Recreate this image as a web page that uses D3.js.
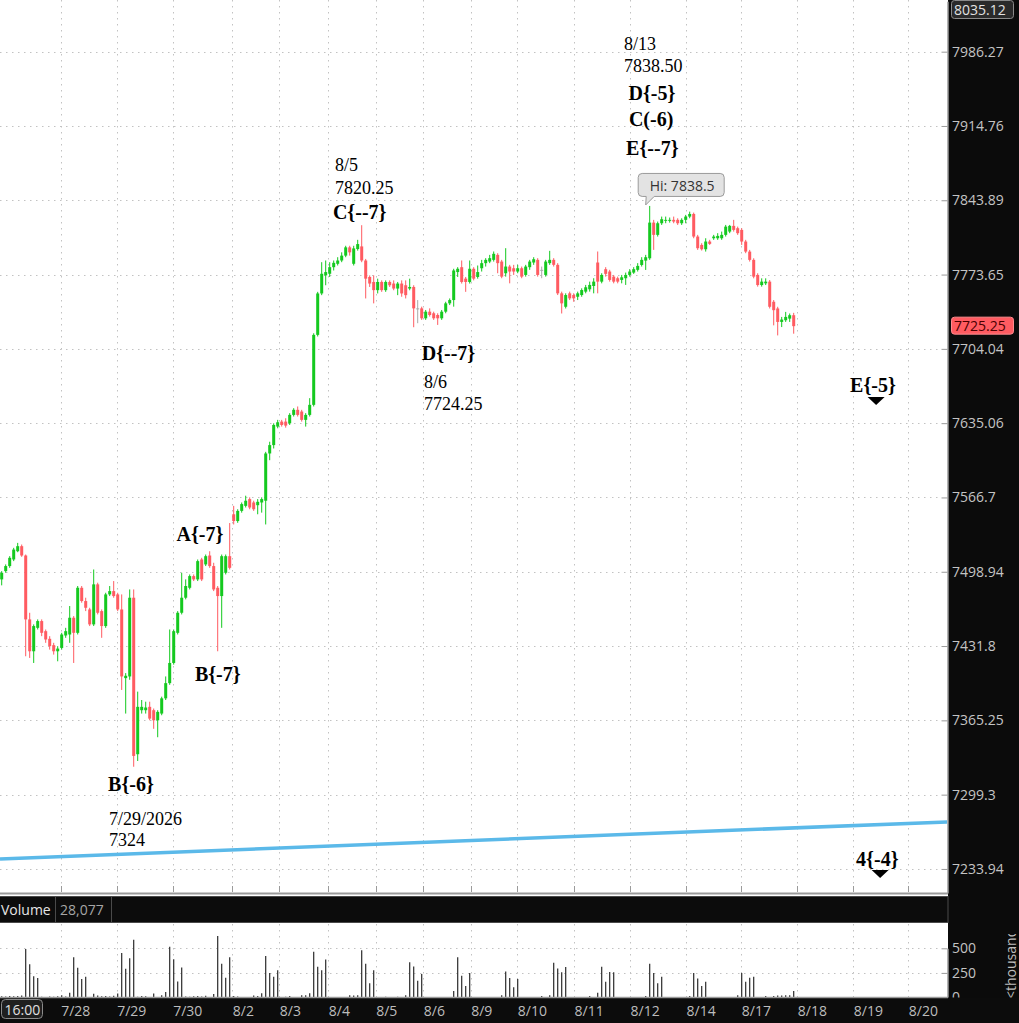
<!DOCTYPE html>
<html>
<head>
<meta charset="utf-8">
<script src="https://cdn.jsdelivr.net/npm/d3@7"></script>
<style>
  html, body { margin: 0; padding: 0; background: #fff; overflow: hidden; }
  svg { display: block; }
</style>
</head>
<body>
<svg id="chart" width="1019" height="1023"></svg>
<script>
// bars, [open, high, low, close]
const candles = [
  [7492.0,7499.5,7486.6,7498.0],[7499.5,7505.6,7498.0,7504.1],[7504.1,7513.1,7502.5,7511.6],[7510.1,7520.7,7508.6,7519.1],
  [7517.6,7525.2,7516.7,7522.2],[7522.2,7523.7,7512.5,7513.7],[7513.7,7514.6,7422.6,7455.8],[7455.8,7461.8,7421.1,7427.1],
  [7427.1,7451.3,7416.6,7449.8],[7448.2,7455.8,7446.7,7454.3],[7454.3,7455.8,7440.7,7443.7],[7445.2,7446.7,7434.7,7437.7],
  [7438.3,7440.7,7428.6,7431.7],[7432.6,7434.7,7424.1,7427.1],[7427.1,7431.7,7418.1,7429.5],[7430.1,7443.7,7428.6,7442.2],
  [7441.3,7448.2,7439.2,7445.2],[7442.2,7467.9,7434.7,7457.3],[7457.3,7458.8,7416.6,7443.7],[7443.7,7486.0,7442.2,7484.4],
  [7484.4,7486.0,7470.9,7472.4],[7472.4,7475.4,7463.3,7466.3],[7464.8,7466.3,7449.8,7451.3],[7451.3,7501.0,7449.8,7487.5],
  [7487.5,7489.0,7460.3,7461.8],[7463.3,7464.8,7439.2,7449.8],[7449.8,7479.9,7448.2,7478.4],[7478.4,7486.0,7476.9,7481.4],
  [7481.4,7490.5,7475.4,7476.9],[7478.4,7479.9,7463.3,7464.8],[7464.8,7478.4,7392.4,7404.5],[7403.0,7407.5,7371.3,7405.1],
  [7404.5,7482.9,7401.5,7475.4],[7475.4,7482.9,7324.0,7333.6],[7335.1,7390.9,7329.1,7377.3],[7374.3,7383.4,7371.3,7377.3],
  [7374.3,7381.9,7371.3,7376.7],[7377.3,7381.9,7365.3,7366.8],[7374.3,7375.8,7357.7,7365.3],[7365.3,7374.3,7350.2,7372.8],
  [7371.3,7386.4,7369.8,7384.9],[7384.9,7404.5,7383.4,7398.5],[7398.5,7446.7,7397.0,7416.6],[7416.6,7446.7,7415.1,7445.2],
  [7443.7,7463.3,7442.2,7461.8],[7461.8,7498.0,7460.3,7475.4],[7475.4,7492.0,7473.9,7486.0],[7484.4,7496.5,7482.9,7495.0],
  [7495.0,7496.5,7490.5,7492.0],[7492.0,7510.1,7490.5,7508.6],[7510.1,7511.6,7490.5,7492.0],[7505.6,7514.6,7504.1,7513.1],
  [7513.7,7517.6,7502.5,7504.1],[7504.1,7507.1,7481.4,7482.9],[7484.4,7486.0,7427.1,7476.9],[7476.9,7514.6,7448.2,7513.1],
  [7498.0,7514.6,7496.5,7513.1],[7513.1,7543.3,7501.0,7502.5],
  [7551.3,7559.0,7542.0,7545.1],[7545.1,7555.9,7543.5,7554.4],
  [7554.4,7562.1,7552.8,7560.6],[7559.0,7568.3,7557.5,7563.7],[7565.2,7566.8,7555.9,7557.5],[7562.1,7563.7,7554.4,7555.9],
  [7559.6,7565.2,7551.3,7562.7],[7562.1,7566.8,7552.8,7565.2],[7563.7,7608.6,7542.0,7607.1],[7607.1,7617.9,7600.9,7614.8],
  [7614.8,7634.9,7611.7,7633.4],[7631.9,7638.1,7630.3,7635.9],[7636.5,7638.1,7631.9,7633.4],[7636.5,7639.6,7630.9,7632.8],
  [7634.9,7644.3,7633.4,7642.7],[7642.7,7648.9,7641.2,7647.4],[7647.4,7650.5,7641.2,7642.7],[7645.8,7647.4,7636.5,7638.1],
  [7638.1,7644.3,7631.9,7642.7],[7642.7,7658.2,7641.2,7652.0],[7652.0,7718.6,7650.5,7717.1],[7717.1,7757.4,7715.6,7755.9],
  [7755.9,7785.3,7754.3,7774.4],[7772.9,7786.9,7763.6,7776.0],[7774.4,7785.3,7771.4,7780.6],[7780.6,7786.9,7777.5,7784.7],
  [7783.8,7790.0,7782.2,7786.9],[7786.9,7794.6,7785.3,7791.5],[7791.5,7800.8,7790.0,7799.3],[7799.3,7800.8,7791.5,7794.6],
  [7783.8,7800.8,7782.2,7798.3],[7797.7,7806.4,7796.2,7802.4],[7800.2,7820.25,7785.3,7786.9],[7786.9,7788.4,7751.2,7769.8],
  [7771.4,7772.9,7762.0,7765.2],[7766.7,7772.9,7746.6,7759.0],[7759.0,7769.8,7755.9,7766.7],[7766.7,7768.2,7757.4,7759.0],
  [7759.0,7768.2,7757.4,7766.7],[7766.7,7768.2,7762.0,7763.6],[7765.2,7768.2,7758.9,7760.5],[7760.5,7766.7,7754.3,7765.2],
  [7765.2,7768.2,7752.8,7755.9],[7763.6,7768.2,7751.2,7754.3],[7760.5,7769.8,7758.9,7762.0],[7762.0,7763.6,7724.25,7741.9],
  [7741.9,7749.7,7728.0,7741.9],[7741.9,7743.5,7731.1,7732.6],[7732.6,7740.4,7731.1,7738.8],[7738.8,7741.9,7734.2,7735.7],
  [7737.3,7738.8,7731.1,7732.6],[7735.7,7737.3,7726.4,7732.6],[7732.6,7740.4,7731.1,7738.8],[7738.8,7748.1,7737.3,7746.6],
  [7746.6,7751.2,7745.0,7749.7],[7749.7,7779.1,7743.5,7777.5],[7776.0,7780.6,7771.4,7779.1],[7780.6,7786.9,7765.2,7766.7],
  [7769.8,7771.4,7757.4,7766.7],[7766.7,7786.9,7765.2,7779.1],[7779.1,7780.6,7768.2,7769.8],[7771.4,7782.2,7769.8,7776.0],
  [7779.6,7787.5,7776.5,7784.4],[7784.4,7789.1,7781.2,7787.5],[7785.9,7792.2,7784.4,7789.1],[7787.5,7795.4,7785.9,7793.2],
  [7792.2,7793.8,7774.9,7784.4],[7785.9,7787.5,7770.2,7771.7],[7774.9,7798.5,7771.7,7781.2],[7781.2,7782.8,7765.4,7776.5],
  [7779.6,7782.8,7773.3,7776.5],[7776.5,7782.8,7774.9,7779.6],[7779.6,7781.2,7770.2,7771.7],[7773.3,7782.8,7771.7,7781.2],
  [7780.6,7787.5,7778.1,7785.9],[7785.0,7790.0,7782.8,7788.1],[7787.5,7789.1,7771.7,7773.3],[7778.1,7781.2,7770.2,7778.1],
  [7773.3,7787.5,7771.7,7785.9],[7784.4,7796.0,7782.8,7787.5],[7787.5,7789.1,7781.2,7782.8],[7782.8,7784.4,7754.4,7756.0],
  [7756.0,7757.6,7737.1,7746.6],[7743.4,7756.0,7741.8,7754.4],[7756.0,7757.6,7749.7,7751.3],[7754.4,7756.0,7748.1,7751.3],
  [7752.8,7757.6,7749.7,7756.0],[7754.4,7760.7,7752.8,7759.1],[7757.6,7763.9,7756.0,7761.7],[7759.8,7767.0,7757.6,7763.9],
  [7762.9,7770.2,7756.0,7767.0],[7785.0,7795.4,7756.0,7767.0],[7767.0,7774.9,7765.4,7773.3],[7778.7,7780.6,7771.7,7774.3],
  [7776.5,7778.1,7767.0,7768.6],[7771.7,7773.3,7765.4,7767.0],[7770.2,7771.7,7765.4,7767.0],[7768.6,7773.3,7765.4,7771.1],
  [7770.2,7775.5,7763.9,7773.3],[7773.3,7778.7,7771.7,7776.5],[7775.5,7780.6,7774.3,7778.7],[7778.1,7784.4,7776.5,7781.8],
  [7782.7,7790.0,7781.2,7787.5],[7786.8,7792.2,7778.0,7790.0],[7789.0,7838.5,7787.5,7822.7],[7822.7,7825.3,7796.9,7811.1],
  [7811.1,7823.7,7809.5,7822.1],[7822.1,7828.4,7820.5,7825.9],[7824.6,7828.4,7822.1,7825.3],[7824.6,7827.5,7822.7,7825.3],
  [7825.3,7828.4,7822.1,7823.7],[7825.3,7826.8,7820.5,7822.1],[7822.1,7826.8,7820.5,7825.3],[7825.3,7830.0,7822.1,7828.4],
  [7828.4,7833.1,7826.8,7830.9],[7830.9,7832.2,7807.9,7809.5],[7809.5,7811.1,7796.9,7798.5],[7801.6,7803.2,7796.3,7797.5],
  [7797.5,7807.9,7795.3,7804.8],[7804.8,7806.4,7801.6,7802.6],[7807.9,7811.1,7806.4,7809.5],[7807.9,7812.7,7806.4,7810.1],
  [7807.9,7814.2,7806.4,7811.1],[7811.1,7820.5,7809.5,7818.9],[7814.2,7820.5,7812.7,7819.6],[7819.6,7825.3,7814.2,7815.8],
  [7817.4,7818.9,7811.1,7812.7],[7815.8,7817.4,7801.6,7804.8],[7804.8,7806.4,7793.8,7795.3],[7795.3,7796.9,7785.9,7787.5],
  [7787.5,7789.0,7770.1,7771.7],[7773.3,7774.9,7762.3,7763.8],[7763.8,7770.1,7762.3,7767.0],[7765.4,7770.1,7763.8,7767.0],
  [7767.0,7768.5,7741.8,7743.4],[7748.1,7749.7,7726.0,7740.2],[7741.8,7743.4,7716.6,7729.2],[7729.2,7733.9,7724.4,7731.4],
  [7730.8,7738.6,7729.2,7733.9],[7732.3,7737.1,7729.2,7735.5],[7735.5,7737.7,7718.2,7725.25]
]

// volume per bar, thousands
const volumes = [
  12,10,14,12,16,20,493,337,215,198,
  8,4,10,8,12,24,10,48,410,302,
  187,212,5,38,20,12,15,10,18,40,
  451,291,399,586,8,15,12,6,40,6,
  24,55,517,389,163,305,10,8,12,15,
  10,18,6,35,625,343,201,410,15,10,
  4,5,5,20,15,42,423,250,212,278,
  5,8,14,5,5,24,24,42,465,312,
  278,385,5,4,6,5,5,24,20,24,
  479,343,146,278,5,4,8,4,5,8,
  5,24,357,316,170,239,3,3,4,3,
  3,4,3,66,410,222,118,250,3,3,
  3,3,3,4,5,24,264,198,104,187,
  3,3,3,3,3,14,3,24,354,295,
  257,309,3,3,3,3,3,14,3,48,
  312,160,260,257,3,3,3,3,3,3,
  4,14,343,250,146,212,3,3,3,3,
  3,3,14,250,194,118,160,3,3,3,
  3,3,3,3,24,250,160,201,212,3,
  3,14,3,14,20,20,24,24,66
]

const priceTicks = [7986.27, 7914.76, 7843.89, 7773.65, 7704.04, 7635.06, 7566.7, 7498.94, 7431.8, 7365.25, 7299.3, 7233.94]
const volumeTicks = [0, 250, 500]

// day separators, in bar slots
const dayTickSlots = [14.75, 28.75, 42.75, 57.65, 69.4, 81.65, 93.5, 105.4, 117.25, 128.9, 143.1, 157.1, 171.1, 184.9, 198.9, 212.9, 226.65]
const dayLabels = ["7/28", "7/29", "7/30", "8/2", "8/3", "8/4", "8/5", "8/6", "8/9", "8/10", "8/11", "8/12", "8/14", "8/17", "8/18", "8/19", "8/20"]

// trend line ends [slot, price]
const trendline = [[-0.425, 7242.7], [236.575, 7275.3]]

// wave notes [text, slot, price, bold]
const notes = [
  ["B{-6}", 26.6, 7302.6, true],
  ["7/29/2026", 26.8, 7272.5, false],
  ["7324", 26.8, 7254.1, false],
  ["A{-7}", 43.7, 7526.9, true],
  ["B{-7}", 48.3, 7400.5, true],
  ["8/5", 83.3, 7871.8, false],
  ["7820.25", 83.3, 7849.9, false],
  ["C{--7}", 82.8, 7826.1, true],
  ["D{--7}", 105, 7693.7, true],
  ["8/6", 105.6, 7667.7, false],
  ["7724.25", 105.6, 7647.3, false],
  ["8/13", 155.6, 7987.9, false],
  ["7838.50", 155.6, 7966.7, false],
  ["D{-5}", 156.7, 7939.7, true],
  ["C(-6)", 156.8, 7914.8, true],
  ["E{--7}", 156.1, 7887.0, true],
  ["E{-5}", 212.1, 7663.9, true],
  ["4{-4}", 213.6, 7236.6, true]
]
// down arrows [slot, price]
const arrows = [[218.6, 7659.3], [219.6, 7233.1]]

const topPrice = 8035.12
const hiBar = 162
const totalVolume = "28,077"

const svg = d3.select("#chart")
const ui = "'Open Sans', 'Noto Sans', sans-serif"
const serif = "'Liberation Serif', 'Times New Roman', serif"
const upCol = "#14c91f", downCol = "#ff5b61", flatCol = "#a9a9a9"
const gridCol = "#c2c2c2"

const x = d3.scaleLinear().domain([-0.425, 236.575]).range([0, 948])
const y = d3.scaleLog().domain([7212.9, topPrice]).range([893, 1.3])
const vy = d3.scaleLinear().domain([0, 500]).range([997.5, 948.3])

const defs = svg.append("defs")
defs.append("clipPath").attr("id", "pclip")
  .append("rect").attr("x", 0).attr("y", 0).attr("width", 947).attr("height", 893)
defs.append("clipPath").attr("id", "uclip")
  .append("rect").attr("x", 995).attr("y", 934).attr("width", 24).attr("height", 64)

svg.append("rect").attr("width", 1019).attr("height", 1023).attr("fill", "#fff")
svg.append("rect").attr("x", 948).attr("y", 0).attr("width", 71).attr("height", 1023).attr("fill", "#0b0b0b")

// dotted grid, price panel
var grid = svg.append("g").attr("stroke", gridCol).attr("stroke-dasharray", "1.5,4.5").attr("stroke-width", 1)
grid.selectAll(".hg").data(priceTicks).enter().append("line")
  .attr("x1", 0).attr("x2", 942).attr("y1", d => Math.round(y(d)) + 0.5).attr("y2", d => Math.round(y(d)) + 0.5)
grid.selectAll(".vg").data(dayTickSlots).enter().append("line")
  .attr("x1", d => Math.round(x(d)) + 0.5).attr("x2", d => Math.round(x(d)) + 0.5).attr("y1", 0).attr("y2", 886)

// dotted grid, volume panel
grid.selectAll(".vhg").data(volumeTicks.slice(1)).enter().append("line")
  .attr("x1", 0).attr("x2", 942).attr("y1", d => Math.round(vy(d)) + 0.5).attr("y2", d => Math.round(vy(d)) + 0.5)
grid.selectAll(".vvg").data(dayTickSlots).enter().append("line")
  .attr("x1", d => Math.round(x(d)) + 0.5).attr("x2", d => Math.round(x(d)) + 0.5).attr("y1", 924).attr("y2", 997)

var plot = svg.append("g").attr("clip-path", "url(#pclip)")

plot.append("path")
  .datum(trendline)
  .attr("d", d3.line().x(d => x(d[0])).y(d => y(d[1])))
  .attr("fill", "none").attr("stroke", "#5bb9e9").attr("stroke-width", 3.5)

const colorOf = d => d[3] > d[0] ? upCol : d[3] < d[0] ? downCol : flatCol

plot.selectAll(".wick").data(candles).enter().append("line")
  .attr("x1", (d, i) => x(i)).attr("x2", (d, i) => x(i))
  .attr("y1", d => y(d[1])).attr("y2", d => y(d[2]))
  .attr("stroke", colorOf).attr("stroke-width", 1)

plot.selectAll(".body").data(candles).enter().append("rect")
  .attr("x", (d, i) => x(i) - 1.5).attr("width", 3)
  .attr("y", d => y(Math.max(d[0], d[3])))
  .attr("height", d => Math.max(1, Math.abs(y(d[0]) - y(d[3]))))
  .attr("fill", colorOf)

// notes
plot.selectAll(".note").data(notes).enter().append("text")
  .attr("x", d => x(d[1])).attr("y", d => y(d[2]))
  .attr("font-family", serif)
  .attr("font-size", d => d[3] ? 20 : 18)
  .attr("font-weight", d => d[3] ? "bold" : "normal")
  .attr("fill", "#000")
  .text(d => d[0])

plot.selectAll(".arrow").data(arrows).enter().append("path")
  .attr("transform", d => "translate(" + x(d[0]) + "," + y(d[1]) + ")")
  .attr("d", "M-8.5,0L8.5,0L0,8Z")
  .attr("fill", "#000")

// high tooltip
var hx = x(hiBar), hy = y(candles[hiBar][1])
var tip = svg.append("g").attr("transform", "translate(" + hx + "," + hy + ")")
tip.append("path")
  .attr("d", "M-7.5,-32.5 h78 a4,4 0 0 1 4,4 v15 a4,4 0 0 1 -4,4 h-66 l-8.5,8.5 l0.5,-8.5 h-4 a4,4 0 0 1 -4,-4 v-15 a4,4 0 0 1 4,-4 Z")
  .attr("fill", "#e3e3e3").attr("stroke", "#9a9a9a").attr("stroke-width", 1)
tip.append("text").attr("x", 0).attr("y", -15)
  .attr("font-family", ui).attr("font-size", 14).attr("fill", "#333")
  .text("Hi: " + candles[hiBar][1])

// bottom ticks and panel borders
svg.append("g").attr("stroke", "#9a9a9a").selectAll("line").data(dayTickSlots).enter().append("line")
  .attr("x1", d => Math.round(x(d)) + 0.5).attr("x2", d => Math.round(x(d)) + 0.5).attr("y1", 886).attr("y2", 892)
svg.append("line").attr("x1", 0).attr("x2", 948).attr("y1", 893.5).attr("y2", 893.5).attr("stroke", "#9a9a9a").attr("stroke-width", 2)

// right price axis
var yAxis = d3.axisRight(y).tickValues(priceTicks).tickSizeInner(-6).tickSizeOuter(0).tickPadding(4.5).tickFormat(d => String(d))
var ya = svg.append("g").attr("transform", "translate(947.5,0)").call(yAxis)
ya.attr("font-family", ui).attr("font-size", 14)
ya.select(".domain").attr("stroke", "#9a9a9a").attr("stroke-width", 1.5)
ya.selectAll(".tick line").attr("stroke", "#9a9a9a")
ya.selectAll(".tick text").attr("fill", "#c4c4c4")

// top value box
svg.append("rect").attr("x", 951.5).attr("y", 0.5).attr("width", 62).attr("height", 18).attr("rx", 3)
  .attr("fill", "#2a2a2a").attr("stroke", "#8a8a8a")
svg.append("text").attr("x", 954).attr("y", 15).attr("font-family", ui).attr("font-size", 14).attr("fill", "#e2e2e2")
  .text(topPrice.toFixed(2))

// last price box
var last = candles[candles.length - 1][3]
svg.append("rect").attr("x", 951.5).attr("y", y(last) - 9).attr("width", 62).attr("height", 17).attr("rx", 3)
  .attr("fill", "#ff5b61").attr("stroke", "#ff8a8e")
svg.append("text").attr("x", 954).attr("y", y(last) + 4.5).attr("font-family", ui).attr("font-size", 14).attr("fill", "#4a0000")
  .text(last.toFixed(2))

// volume header
svg.append("rect").attr("x", -1).attr("y", 896.5).attr("width", 949).attr("height", 26).attr("fill", "#0c0c0c").attr("stroke", "#4a4a4a")
svg.append("line").attr("x1", 55.5).attr("x2", 55.5).attr("y1", 897).attr("y2", 922).attr("stroke", "#4a4a4a")
svg.append("line").attr("x1", 111.5).attr("x2", 111.5).attr("y1", 897).attr("y2", 922).attr("stroke", "#4a4a4a")
svg.append("text").attr("x", 1).attr("y", 914.5).attr("font-family", ui).attr("font-size", 14).attr("fill", "#e6e6e6").text("Volume")
svg.append("text").attr("x", 60).attr("y", 914.5).attr("font-family", ui).attr("font-size", 14).attr("fill", "#a6a6a6").text(totalVolume)

// volume bars
svg.append("g").selectAll("line").data(volumes).enter().append("line")
  .attr("x1", (d, i) => x(i)).attr("x2", (d, i) => x(i))
  .attr("y1", vy(0)).attr("y2", d => vy(d))
  .attr("stroke", "#2b2b2b").attr("stroke-width", 1.2)

var vAxis = d3.axisRight(vy).tickValues(volumeTicks).tickSizeInner(-6).tickSizeOuter(0).tickPadding(4.5)
var va = svg.append("g").attr("transform", "translate(947.5,0)").call(vAxis)
va.attr("font-family", ui).attr("font-size", 14)
va.select(".domain").attr("stroke", "#9a9a9a").attr("stroke-width", 1.5)
va.selectAll(".tick line").attr("stroke", "#9a9a9a")
va.selectAll(".tick text").attr("fill", "#c4c4c4")

svg.append("g").attr("clip-path", "url(#uclip)")
  .append("text").attr("transform", "translate(1016,999) rotate(-90)")
  .attr("font-family", ui).attr("font-size", 14).attr("fill", "#bdbdbd").text("<thousands>")

// time axis
svg.append("rect").attr("x", 0).attr("y", 997.5).attr("width", 1019).attr("height", 26).attr("fill", "#0c0c0c")
svg.append("line").attr("x1", 0).attr("x2", 948).attr("y1", 997.5).attr("y2", 997.5).attr("stroke", "#9a9a9a").attr("stroke-width", 1.5)
svg.append("g").selectAll("text").data(dayTickSlots).enter().append("text")
  .attr("x", d => x(d) + 0.5).attr("y", 1016)
  .attr("font-family", ui).attr("font-size", 14).attr("fill", "#bdbdbd")
  .text((d, i) => dayLabels[i])

svg.append("rect").attr("x", 1.5).attr("y", 999.5).attr("width", 41).attr("height", 19).attr("rx", 4)
  .attr("fill", "#1f1f1f").attr("stroke", "#8a8a8a")
svg.append("text").attr("x", 4.5).attr("y", 1015).attr("font-family", ui).attr("font-size", 14).attr("fill", "#e0e0e0").text("16:00")
</script>
</body>
</html>
